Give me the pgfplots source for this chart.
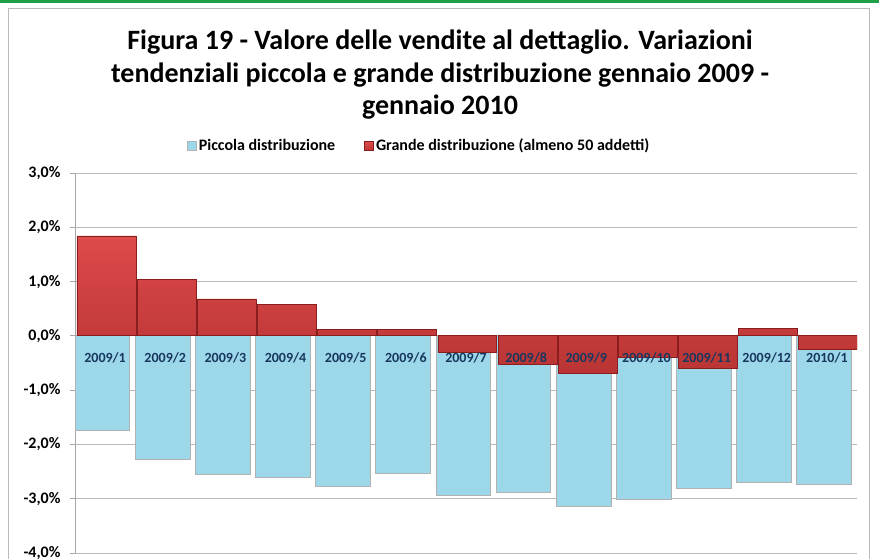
\documentclass[border=0pt]{standalone}
\usepackage{pgfplots}
\pgfplotsset{compat=1.18}
\usepackage{fontspec}
\setmainfont{Carlito}
\definecolor{piccola}{HTML}{9DD8EA}
\definecolor{grandetop}{HTML}{DE4A4A}
\definecolor{grandebot}{HTML}{B93434}
\definecolor{grandeedge}{HTML}{8A1E1E}
\definecolor{catlabel}{HTML}{17375E}
\definecolor{topgreen}{HTML}{1FA046}
\begin{document}
\begin{tikzpicture}[x=1pt,y=1pt]
\fill[topgreen] (0,555) rectangle (879,558);
\draw[gray!55, line width=1pt] (8.5,-2) -- (8.5,549.5) -- (869.5,549.5) -- (869.5,-2);
\node[font=\bfseries\fontsize{28}{32.5}\selectfont, align=center] at (440,483)
  {Figura 19 - Valore delle vendite al dettaglio. Variazioni\\tendenziali piccola e grande distribuzione gennaio 2009 -\\gennaio 2010};
\begin{axis}[
  scale only axis, width=782pt, height=380pt,
  at={(75pt,5pt)}, anchor=south west,
  ybar, bar width=0.91,
  xmin=-0.5, xmax=12.5, ymin=-4, ymax=3,
  xtick=\empty,
  axis x line*=bottom, axis y line*=left,
  x axis line style={draw=none},
  y axis line style={gray!70, line width=0.8pt},
  ytick={-4,-3,-2,-1,0,1,2,3},
  ytick style={gray!70, line width=0.8pt}, tick align=outside, major tick length=5pt,
  ymajorgrids, grid style={gray!55, line width=0.9pt},
  /pgf/number format/assume math mode=true,
  yticklabel={\pgfmathprintnumber[fixed,fixed zerofill,precision=1,use comma]{\tick}\%},
  yticklabel style={font=\bfseries\fontsize{16}{17}\selectfont, xshift=-6pt},
  legend columns=2,
  legend style={at={(0.44,1.074)}, anchor=center, draw=none, fill=none,
    font=\bfseries\fontsize{16}{18}\selectfont,
    nodes={anchor=base west, text depth=0pt},
    /tikz/every even column/.append style={column sep=27pt}},
  legend image code/.code={\fill[#1] (0pt,0pt) rectangle (9pt,9pt);},
]
\addplot[fill=piccola, draw=gray!60, line width=1pt, bar shift=-0.043] coordinates {
(0,-1.75) (1,-2.28) (2,-2.56) (3,-2.60) (4,-2.77) (5,-2.53) (6,-2.94)
(7,-2.88) (8,-3.14) (9,-3.02) (10,-2.82) (11,-2.70) (12,-2.73)};
\addlegendentry{Piccola distribuzione}
\addplot[top color=grandetop, bottom color=grandebot, draw=grandeedge, line width=0.8pt, bar width=0.98, bar shift=0.023] coordinates {
(0,1.84) (1,1.04) (2,0.68) (3,0.58) (4,0.12) (5,0.12) (6,-0.30)
(7,-0.52) (8,-0.70) (9,-0.39) (10,-0.60) (11,0.13) (12,-0.25)};
\addlegendentry{Grande distribuzione (almeno 50 addetti)}
\end{axis}
\begin{axis}[
  scale only axis, width=782pt, height=380pt,
  at={(75pt,5pt)}, anchor=south west,
  xmin=-0.5, xmax=12.5, ymin=-4, ymax=3,
  hide y axis, axis x line*=bottom, x axis line style={draw=none}, xtick style={draw=none},
  xtick={0,1,2,3,4,5,6,7,8,9,10,11,12},
  xticklabels={2009/1,2009/2,2009/3,2009/4,2009/5,2009/6,2009/7,2009/8,2009/9,2009/10,2009/11,2009/12,2010/1},
  xticklabel style={anchor=center, yshift=195pt, font=\bfseries\fontsize{14}{15}\selectfont, text=catlabel},
]
\end{axis}
\pgfresetboundingbox
\useasboundingbox (0,0) rectangle (879,558);
\end{tikzpicture}
\end{document}
